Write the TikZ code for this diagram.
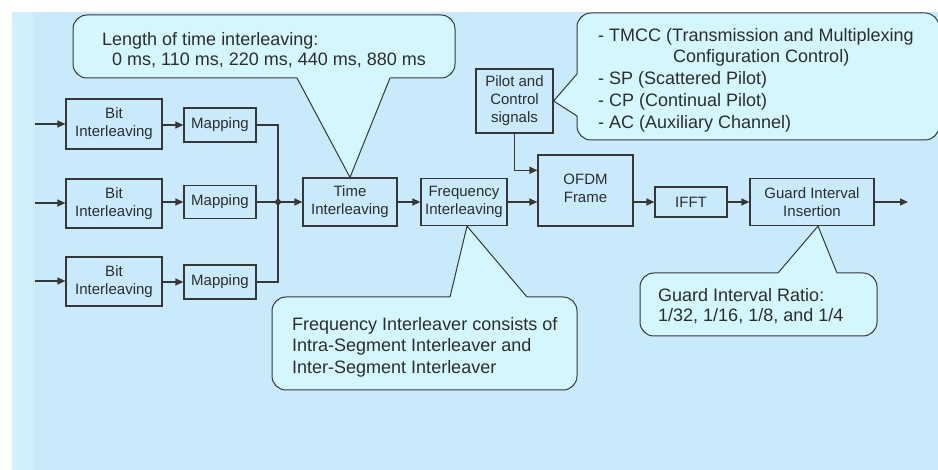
\documentclass[tikz,border=0pt]{standalone}
\usepackage{fontspec}
\setmainfont{Liberation Sans}
\usetikzlibrary{arrows.meta,calc}
\definecolor{bgblue}{RGB}{201,234,250}
\definecolor{bgstrip}{RGB}{210,239,252}
\definecolor{callfill}{RGB}{212,247,254}
\definecolor{linec}{RGB}{55,55,55}
\definecolor{textc}{RGB}{45,45,45}
\begin{document}
\begin{tikzpicture}[x=1pt,y=-1pt,
  blk/.style={draw=linec, line width=1.2pt, align=center, font=\fontsize{15}{18}\selectfont, text=textc, inner sep=0pt},
  arr/.style={draw=linec, line width=1.2pt, -{Triangle[length=8pt,width=7pt]}},
  ln/.style={draw=linec, line width=1.2pt},
  callout/.style={draw=linec, line width=1pt, fill=callfill, rounded corners=14pt, inner sep=0pt},
  pointer/.style={draw=linec, line width=1pt, line join=miter},
  ctext/.style={anchor=north west, inner sep=0pt, align=left, text=textc}]
\fill[white] (0,0) rectangle (938,470);
\fill[bgblue] (12,12) rectangle (938,470);
\fill[bgstrip] (12,12) rectangle (33,470);
\useasboundingbox (0,0) rectangle (938,470);

% blocks
\node[blk, minimum width=96pt, minimum height=50pt] (b1) at (114,124) {Bit\\Interleaving};
\node[blk, minimum width=72pt, minimum height=34pt] (m1) at (220,125) {Mapping};
\node[blk, minimum width=96pt, minimum height=49pt] (b2) at (114,203.5) {Bit\\Interleaving};
\node[blk, minimum width=72pt, minimum height=33pt] (m2) at (220,202) {Mapping};
\node[blk, minimum width=96pt, minimum height=49pt] (b3) at (114,281.5) {Bit\\Interleaving};
\node[blk, minimum width=72pt, minimum height=34pt] (m3) at (220,282) {Mapping};
\node[blk, minimum width=94pt, minimum height=48pt] (ti) at (350,202) {Time\\Interleaving};
\node[blk, minimum width=86pt, minimum height=47pt] (fi) at (464,202) {Frequency\\Interleaving};
\node[blk, minimum width=77pt, minimum height=64pt] (pc) at (514.5,101) {Pilot and\\Control\\signals};
\node[blk, minimum width=95pt, minimum height=71pt] (of) at (585.5,190.5) {};
\node[blk, draw=none, anchor=center] (oft) at (585.5,188.5) {OFDM\\Frame};
\node[blk, minimum width=72pt, minimum height=30pt] (ifft) at (691,202) {IFFT};
\node[blk, minimum width=124pt, minimum height=47pt] (gi) at (812,202) {Guard Interval\\Insertion};

% connectors
\coordinate (i1) at (35,124);
\coordinate (i2) at (35,203);
\coordinate (i3) at (35,281);
\draw[arr] (i1) -- (i1 -| b1.west);
\draw[arr] (i2) -- (i2 -| b2.west);
\draw[arr] (i3) -- (i3 -| b3.west);
\draw[arr] (b1.east |- m1.west) -- (m1.west);
\draw[arr] (b2.east |- m2.west) -- (m2.west);
\draw[arr] (b3.east |- m3.west) -- (m3.west);
\coordinate (j) at (278,202);
\draw[ln] (m1.east) -| (j);
\draw[ln] (m3.east) -| (j);
\draw[ln] (m2.east) -- (j);
\fill[linec] (j) circle (3pt);
\draw[arr] (j) -- (ti.west);
\draw[arr] (ti.east) -- (fi.west);
\draw[arr] (fi.east) -- (fi.east -| of.west);
\draw[arr] (pc.south) |- ($(of.north west)!0.22!(of.south west)$);
\draw[arr] (of.east |- ifft.west) -- (ifft.west);
\draw[arr] (ifft.east) -- (gi.west);
\coordinate (out) at (908,202);
\draw[arr] (gi.east) -- (out);

% callout: time interleaving
\node[callout, minimum width=382pt, minimum height=63pt] (tc) at (264,46.5) {};
\coordinate (tcA) at (297,78); \coordinate (tcB) at (390,78);
\fill[callfill] ($(tcA)+(0,-1.5)$) -- (tcA) -- (ti.north) -- (tcB) -- ($(tcB)+(0,-1.5)$) -- cycle;
\draw[pointer] (tcA) -- (ti.north) -- (tcB);
\node[ctext, font=\fontsize{18}{20}\selectfont] (tct) at (102,32)
  {Length of time interleaving:\\\hspace*{10pt}0 ms, 110 ms, 220 ms, 440 ms, 880 ms};

% callout: pilot
\node[callout, minimum width=362pt, minimum height=127pt] (pcc) at (758,76.5) {};
\coordinate (pcA) at (577,74); \coordinate (pcB) at (577,116);
\fill[callfill] ($(pcA)+(1.5,0)$) -- (pcA) -- (pc.east) -- (pcB) -- ($(pcB)+(1.5,0)$) -- cycle;
\draw[pointer] (pcA) -- (pc.east) -- (pcB);
\node[ctext, font=\fontsize{18}{21.7}\selectfont] (pct) at (598,28)
  {- TMCC (Transmission and Multiplexing\\\hspace*{75pt}Configuration Control)\\- SP (Scattered Pilot)\\- CP (Continual Pilot)\\- AC (Auxiliary Channel)};

% callout: frequency interleaver
\node[callout, minimum width=305pt, minimum height=93pt] (fc) at (424.5,343.5) {};
\coordinate (fcA) at (450,297); \coordinate (fcB) at (527,297);
\fill[callfill] ($(fcA)+(0,1.5)$) -- (fcA) -- ([xshift=3pt]fi.south) -- (fcB) -- ($(fcB)+(0,1.5)$) -- cycle;
\draw[pointer] (fcA) -- ([xshift=3pt]fi.south) -- (fcB);
\node[ctext, font=\fontsize{18}{21.5}\selectfont] (fct) at (292,317)
  {Frequency Interleaver consists of\\Intra-Segment Interleaver and\\Inter-Segment Interleaver};

% callout: guard interval
\node[callout, minimum width=237pt, minimum height=63pt] (gc) at (758.5,304.5) {};
\coordinate (gcA) at (778,273); \coordinate (gcB) at (837,273);
\fill[callfill] ($(gcA)+(0,1.5)$) -- (gcA) -- ([xshift=6pt]gi.south) -- (gcB) -- ($(gcB)+(0,1.5)$) -- cycle;
\draw[pointer] (gcA) -- ([xshift=6pt]gi.south) -- (gcB);
\node[ctext, font=\fontsize{18}{20}\selectfont] (gct) at (658,288)
  {Guard Interval Ratio:\\1/32, 1/16, 1/8, and 1/4};
\end{tikzpicture}
\end{document}
